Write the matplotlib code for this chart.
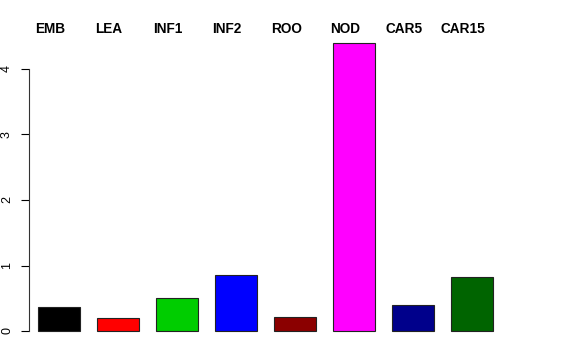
import matplotlib
matplotlib.use("Agg")
import matplotlib.pyplot as plt

categories = ["EMB", "LEA", "INF1", "INF2", "ROO", "NOD", "CAR5", "CAR15"]
values = [0.366, 0.206, 0.51, 0.855, 0.214, 4.40, 0.40, 0.82]
colors = ["#000000", "#FF0000", "#00CD00", "#0000FF", "#8B0000", "#FF00FF", "#00008B", "#006400"]
yticks = [0, 1, 2, 3, 4]

W, H = 576, 360
fig = plt.figure(figsize=(W / 100, H / 100), dpi=100)
ax_left, ax_right, ax_top, ax_bottom = 29, 512, 31, 342
ax = fig.add_axes([ax_left / W, 1 - ax_bottom / H, (ax_right - ax_left) / W, (ax_bottom - ax_top) / H])

pitch = 59.0
x = list(range(len(categories)))
ax.bar(x, values, width=42 / pitch, color=colors, edgecolor="#222222", linewidth=0.8)

ax.set_xlim(-(59 - ax_left) / pitch, (ax_right - 59) / pitch)
ypx = 65.5
ax.set_ylim(-(ax_bottom - 331) / ypx, (331 - ax_top) / ypx)

for s in ["top", "right", "bottom"]:
    ax.spines[s].set_visible(False)
ax.spines["left"].set_bounds(0, 4)
ax.spines["left"].set_linewidth(0.8)
ax.spines["left"].set_color("#333333")
ax.set_xticks([])
ax.set_yticks(yticks)
ax.set_yticklabels([str(t) for t in yticks], fontsize=9, family="Liberation Sans")
ax.tick_params(axis="y", length=6, width=0.8, pad=5.5, labelrotation=90)
for lab in ax.get_yticklabels():
    lab.set_verticalalignment("center")

label_y = (331 - 29.5) / ypx
for xi, name in zip(x, categories):
    ax.text(xi - 0.15, label_y, name, ha="center", va="center", fontsize=9.8,
            fontweight="bold", family="Liberation Sans", clip_on=False)

fig.savefig("out.png", dpi=100)
